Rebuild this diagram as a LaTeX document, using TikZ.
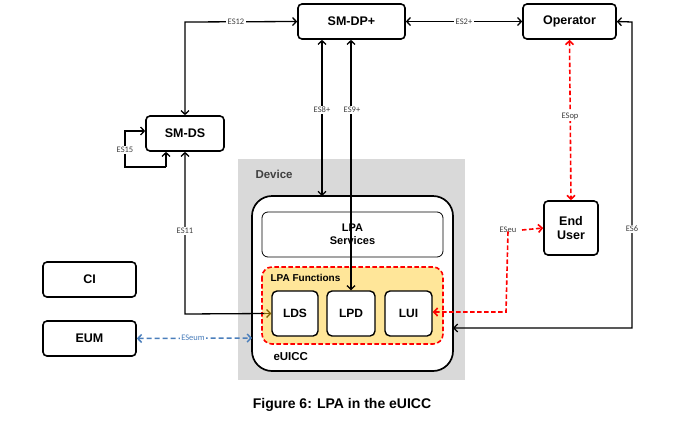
\documentclass[tikz,border=0pt]{standalone}
\usepackage{fontspec}
\setmainfont{Liberation Sans}
\newfontfamily\lblfont{Carlito}
\usetikzlibrary{arrows.meta,calc}
\definecolor{devgray}{HTML}{D9D9D9}
\definecolor{lpafill}{HTML}{FFE699}
\definecolor{lblgray}{HTML}{404040}
\definecolor{esblue}{HTML}{4A7EBB}
\definecolor{olivearrow}{HTML}{7F6000}
\begin{document}
\begin{tikzpicture}[x=1pt,y=-1pt,
  >={Straight Barb[length=3.8pt,width=8pt]},
  ent/.style={draw,line width=1.6pt,rounded corners=4pt,font=\bfseries\fontsize{12.5}{14}\selectfont,align=center},
  sub/.style={draw,line width=1.4pt,rounded corners=5pt,fill=white,font=\bfseries\fontsize{12}{14}\selectfont},
  conn/.style={line width=1.3pt},
  redd/.style={line width=1.6pt,red,dash pattern=on 4.5pt off 2.5pt},
  lbl/.style={fill=white,inner sep=1.5pt,font=\lblfont\fontsize{8.5}{9}\selectfont,text=lblgray}]
\useasboundingbox (0,0) rectangle (691,429);
% device
\fill[devgray] (238,159) rectangle (465,380);
\node[anchor=west,font=\bfseries\fontsize{11.5}{13}\selectfont,text=lblgray] (devlbl) at (252,174) {Device};
\draw[line width=1.7pt,rounded corners=20pt,fill=white] (252,196) rectangle (453,371);
\coordinate (euicc-top) at (322,196);
\coordinate (euicc-left) at (252,338);
\coordinate (euicc-right) at (453,328);
\node[anchor=west,font=\bfseries\fontsize{11.5}{13}\selectfont] (euicclbl) at (270,357) {eUICC};
\node[draw,line width=0.8pt,rounded corners=6pt,minimum width=181pt,minimum height=45pt,font=\bfseries\fontsize{11}{13}\selectfont,align=center] (lpas) at (352.5,234.5) {LPA\\Services};
\draw[redd,fill=lpafill,rounded corners=10pt] (262,267) rectangle (443,344);
\node[anchor=west,font=\bfseries\fontsize{10}{12}\selectfont] (lpaf) at (267,278) {LPA Functions};
\node[sub,minimum width=46pt,minimum height=45pt] (lds) at (295,313.5) {LDS};
\node[sub,minimum width=48pt,minimum height=45pt] (lpd) at (351,313.5) {LPD};
\node[sub,minimum width=47pt,minimum height=45pt] (lui) at (408.5,313.5) {LUI};
% entities
\node[ent,minimum width=107pt,minimum height=35pt] (smdp) at (351.5,21.5) {SM-DP+};
\node[ent,minimum width=93pt,minimum height=35pt] (op) at (569.5,21.5) {Operator};
\node[ent,minimum width=78pt,minimum height=35pt] (smds) at (185,133.5) {SM-DS};
\node[ent,minimum width=93pt,minimum height=35pt] (ci) at (89.5,279.5) {CI};
\node[ent,minimum width=93pt,minimum height=35pt] (eum) at (89.5,338.5) {EUM};
\node[ent,minimum width=54pt,minimum height=54pt] (eu) at (571,228) {End\\User};
% ES12
\coordinate (es12c) at (185,22);
\draw[conn,<->] (smds.north) -- (es12c) -- (smdp.west);
\node[lbl] (es12) at (236,22) {ES12};
% ES15
\coordinate (es15a) at (125,131);
\coordinate (es15b) at (125,167);
\coordinate (es15c) at (166,167);
\draw[conn,->] (es15c) -- (es15b) -- (es15a) -- (smds.west|-es15a);
\draw[conn,->] (es15c) -- (smds.south-|es15c);
\node[lbl] (es15) at (125,150) {ES15};
% ES2+
\draw[conn,<->] (smdp.east) -- (op.west);
\node[lbl] (es2) at (464,22) {ES2+};
% ES8+ ES9+
\draw[conn,<->] (smdp.south-|euicc-top) -- (euicc-top);
\node[lbl] (es8) at (322,110) {ES8+};
\draw[conn,<->] (smdp.south-|lpd.north) -- (lpd.north);
\node[lbl] (es9) at (352,110) {ES9+};
% ES11
\coordinate (es11c) at (185,314);
\draw[conn,<-] (smds.south) -- (es11c) -- ($(lds.west)+(-6pt,0)$);
\draw[conn,olivearrow,->] ($(lds.west)+(-7pt,0)$) -- (lds.west);
\node[lbl] (es11) at (185,231) {ES11};
% ESeum
\draw[line width=1.5pt,esblue,dash pattern=on 5pt off 3pt,<->] (eum.east) -- (euicc-left);
\node[lbl,text=esblue] (eseum) at (193,338) {ESeum};
% ESop
\draw[redd,<->] (op.south) -- (eu.north);
\node[lbl] (esop) at (570,116) {ESop};
% ESeu
\node[lbl] (eseu) at (508,230) {ESeu};
\coordinate (eseuc) at (506,312);
\draw[redd,->] ($(eseu.east)+(4pt,0)$) -- (eu.west);
\draw[redd,->] ($(eseu.south)+(0,3pt)$) -- (eseuc) -- (lui.east|-eseuc);
% ES6
\coordinate (es6a) at (632,22);
\coordinate (es6b) at (632,328);
\draw[conn,<->] (op.east) -- (es6a) -- (es6b) -- (euicc-right);
\node[lbl] (es6) at (632,229) {ES6};
% caption
\node[font=\bfseries\fontsize{14}{16}\selectfont] (cap) at (342,405) {Figure 6: LPA in the eUICC};
\end{tikzpicture}
\end{document}
